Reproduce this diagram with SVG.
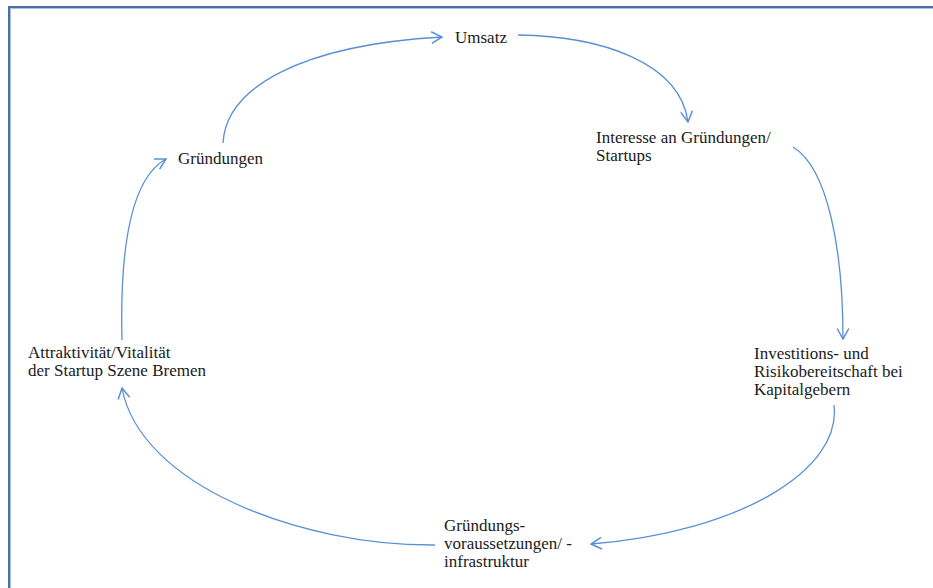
<svg xmlns="http://www.w3.org/2000/svg" width="933" height="588" viewBox="0 0 933 588">
<style>
.t{font-family:"Liberation Serif","Times New Roman",serif;font-size:17px;fill:#1a1a1a}
.c{fill:none;stroke:#5b8fd4;stroke-width:1.3;marker-end:url(#ah)}
</style>
<defs>
<marker id="ah" markerUnits="userSpaceOnUse" markerWidth="14" markerHeight="14" refX="11" refY="6" orient="auto" viewBox="0 0 12 12">
<path d="M2,1 L11,6 L2,11" fill="none" stroke="#5b8fd4" stroke-width="1.3"/>
</marker>
</defs>
<rect x="0" y="0" width="933" height="588" fill="#ffffff"/>
<rect x="9" y="7" width="940" height="600" fill="none" stroke="#4e6fa3" stroke-width="2"/>
<rect x="10.5" y="8.5" width="940" height="600" fill="none" stroke="#a8c0e4" stroke-width="1"/>
<g id="connectors">
<path class="c" d="M223,143 C226,88 300,45 442,37"/>
<path class="c" d="M518,35 C600,36 680,62 688,122"/>
<path class="c" d="M793,147 C828,168 843,250 843,339"/>
<path class="c" d="M834,405 C842,470 740,532 591,544"/>
<path class="c" d="M435,545 C300,546 140,485 122,388"/>
<path class="c" d="M122,340 C120,260 128,180 166,159"/>
</g>
<g id="umsatz"><text class="t" x="455" y="43">Umsatz</text></g>
<g id="interesse"><text class="t" x="596" y="143">Interesse an Gründungen/</text><text class="t" x="596" y="161">Startups</text></g>
<g id="investitions"><text class="t" x="754" y="359">Investitions- und</text><text class="t" x="754" y="377">Risikobereitschaft bei</text><text class="t" x="754" y="395">Kapitalgebern</text></g>
<g id="voraussetzungen"><text class="t" x="444" y="531">Gründungs-</text><text class="t" x="444" y="549">voraussetzungen/ -</text><text class="t" x="444" y="567">infrastruktur</text></g>
<g id="attraktivitaet"><text class="t" x="28" y="358">Attraktivität/Vitalität</text><text class="t" x="28" y="376">der Startup Szene Bremen</text></g>
<g id="gruendungen"><text class="t" x="178" y="164">Gründungen</text></g>
</svg>
